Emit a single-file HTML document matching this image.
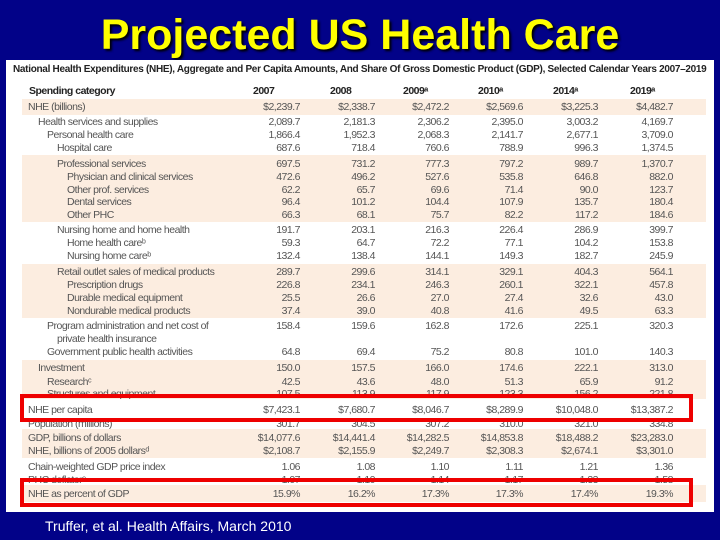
<!DOCTYPE html>
<html><head><meta charset="utf-8"><style>
body{margin:0;width:720px;height:540px;background:#020288;overflow:hidden;position:relative;font-family:"Liberation Sans",Arial,sans-serif}
#title{position:absolute;left:0;width:720px;top:9px;text-align:center;color:#ffff00;font-weight:bold;font-size:43px;text-shadow:2px 2px 2px #000;line-height:52px}
#panel{position:absolute;left:6px;top:60px;width:708px;height:452px;background:#fff}
.band{position:absolute;left:16px;width:684px;background:#fcede0}
.t{position:absolute;font-size:10.5px;color:#555;white-space:nowrap;line-height:12px;letter-spacing:-0.5px}
.v{text-align:right;width:70px}
.red{position:absolute;border:4px solid #ee0000;box-sizing:border-box}
#cap{position:absolute;left:45px;top:518px;color:#fff;font-size:14px}
</style></head><body>
<div id="title">Projected US Health Care</div>
<div id="panel">
<div class="t" style="left:7px;top:4px;font-weight:bold;font-size:10px;color:#222;letter-spacing:-0.3px">National Health Expenditures (NHE), Aggregate and Per Capita Amounts, And Share Of Gross Domestic Product (GDP), Selected Calendar Years 2007–2019</div>
</div>
<div id="cap">Truffer, et al. Health Affairs, March 2010</div>
<script>
const bands=[[99,115],[155,222],[264,318],[360,399],[429,458],[485,502]];
const years=["2007","2008","2009ᵃ","2010ᵃ","2014ᵃ","2019ᵃ"];
const rows=[
["NHE (billions)",0,107,["$2,239.7","$2,338.7","$2,472.2","$2,569.6","$3,225.3","$4,482.7"]],
["Health services and supplies",1,122,["2,089.7","2,181.3","2,306.2","2,395.0","3,003.2","4,169.7"]],
["Personal health care",2,135,["1,866.4","1,952.3","2,068.3","2,141.7","2,677.1","3,709.0"]],
["Hospital care",3,148,["687.6","718.4","760.6","788.9","996.3","1,374.5"]],
["Professional services",3,164,["697.5","731.2","777.3","797.2","989.7","1,370.7"]],
["Physician and clinical services",4,177,["472.6","496.2","527.6","535.8","646.8","882.0"]],
["Other prof. services",4,190,["62.2","65.7","69.6","71.4","90.0","123.7"]],
["Dental services",4,202,["96.4","101.2","104.4","107.9","135.7","180.4"]],
["Other PHC",4,215,["66.3","68.1","75.7","82.2","117.2","184.6"]],
["Nursing home and home health",3,230,["191.7","203.1","216.3","226.4","286.9","399.7"]],
["Home health careᵇ",4,243,["59.3","64.7","72.2","77.1","104.2","153.8"]],
["Nursing home careᵇ",4,256,["132.4","138.4","144.1","149.3","182.7","245.9"]],
["Retail outlet sales of medical products",3,272,["289.7","299.6","314.1","329.1","404.3","564.1"]],
["Prescription drugs",4,285,["226.8","234.1","246.3","260.1","322.1","457.8"]],
["Durable medical equipment",4,298,["25.5","26.6","27.0","27.4","32.6","43.0"]],
["Nondurable medical products",4,311,["37.4","39.0","40.8","41.6","49.5","63.3"]],
["Program administration and net cost of",2,326,["158.4","159.6","162.8","172.6","225.1","320.3"]],
["private health insurance",3,339,["","","","","",""]],
["Government public health activities",2,352,["64.8","69.4","75.2","80.8","101.0","140.3"]],
["Investment",1,368,["150.0","157.5","166.0","174.6","222.1","313.0"]],
["Researchᶜ",2,382,["42.5","43.6","48.0","51.3","65.9","91.2"]],
["Structures and equipment",2,394,["107.5","113.9","117.9","123.3","156.2","221.8"]],
["NHE per capita",0,410,["$7,423.1","$7,680.7","$8,046.7","$8,289.9","$10,048.0","$13,387.2"]],
["Population (millions)",0,424,["301.7","304.5","307.2","310.0","321.0","334.8"]],
["GDP, billions of dollars",0,438,["$14,077.6","$14,441.4","$14,282.5","$14,853.8","$18,488.2","$23,283.0"]],
["NHE, billions of 2005 dollarsᵈ",0,451,["$2,108.7","$2,155.9","$2,249.7","$2,308.3","$2,674.1","$3,301.0"]],
["Chain-weighted GDP price index",0,467,["1.06","1.08","1.10","1.11","1.21","1.36"]],
["PHC deflatorᵉ",0,480,["1.07","1.10","1.14","1.17","1.33","1.58"]],
["NHE as percent of GDP",0,494,["15.9%","16.2%","17.3%","17.3%","17.4%","19.3%"]]
];
const colRight=[300,375,449,523,598,673];
const hdrX=[253,330,403,478,553,630];
const indent=[0,10,19,29,39];
const P=6,PT=60;
const panel=document.getElementById('panel');
bands.forEach(b=>{const d=document.createElement('div');d.className='band';


d.style.top=(b[0]-PT)+'px';d.style.height=(b[1]-b[0])+'px';panel.appendChild(d);});
function txt(s,x,y,cls,extra){const d=document.createElement('div');d.className='t '+(cls||'');d.textContent=s;d.style.left=(x-P)+'px';d.style.top=(y-6-PT)+'px';if(extra)d.style.cssText+=extra;panel.appendChild(d);return d;}
let h=txt('Spending category',29,91,'','font-weight:bold;color:#222');


years.forEach((y,i)=>{const d=txt(y,hdrX[i],91,'','font-weight:bold;color:#222');

});
rows.forEach(r=>{const l=txt(r[0],28+indent[r[1]],r[2]);


r[3].forEach((v,i)=>{if(!v)return;const d=txt(v,colRight[i]-70,r[2],'v');

});});
[[394,422],[478,507]].forEach(b=>{const d=document.createElement('div');d.className='red';


d.style.left='20px';d.style.top=b[0]+'px';d.style.width='673px';d.style.height=(b[1]-b[0])+'px';document.body.appendChild(d);});
</script>
</body></html>
